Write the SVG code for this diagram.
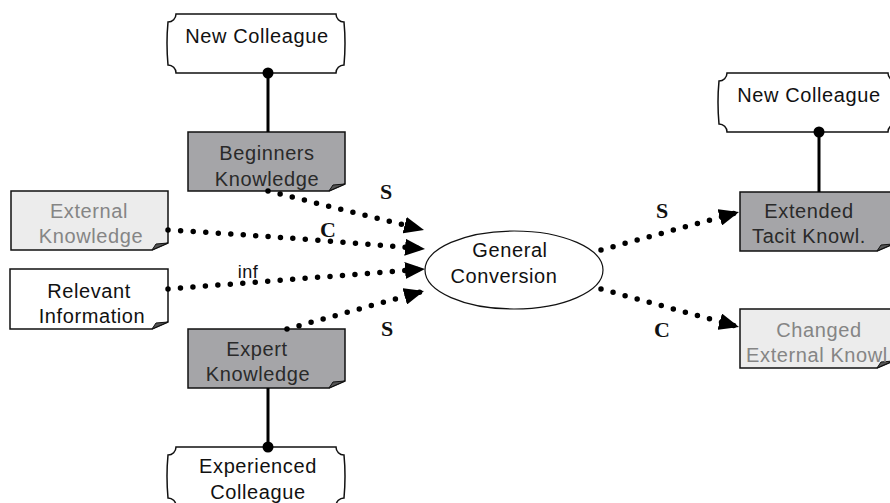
<svg xmlns="http://www.w3.org/2000/svg" width="890" height="503" viewBox="0 0 890 503">
<style>
  .t { font-family: "Liberation Sans", Arial, sans-serif; font-size: 20px; letter-spacing: 0.6px; text-anchor: middle; fill: #111; }
  .tg { fill: #858585; }
  .td { fill: #2a2a2a; }
  .lbl { font-family: "Liberation Serif", "Times New Roman", serif; font-size: 22px; font-weight: bold; text-anchor: middle; fill: #111; }
  .inf { font-family: "Liberation Sans", Arial, sans-serif; font-size: 18px; text-anchor: middle; fill: #111; letter-spacing: 0.5px; }
  .box { stroke: #111; stroke-width: 1.5; }
  .dark { fill: #a5a5a8; }
  .light { fill: #ececec; }
  .white { fill: #ffffff; }
  .fold { fill: #555; stroke: #111; stroke-width: 1; }
  .dot { fill: none; stroke: #000; stroke-width: 5.5; stroke-linecap: round; stroke-dasharray: 0 12.5; }
  .solid { stroke: #000; stroke-width: 3; fill: none; }
</style>
<defs>
  <marker id="arr" markerUnits="userSpaceOnUse" markerWidth="21" markerHeight="17" refX="20" refY="8.5" orient="auto">
    <path d="M0,0 L20,8.5 L0,17 Z" fill="#000"/>
  </marker>
</defs>
<rect width="890" height="503" fill="#fff"/>

<g id="new-colleague-left">
  <path class="box white" d="M176,14 H336 A8,8 0 0 0 344,22 Q346,43 344,65 A8,8 0 0 0 336,73 H176 A8,8 0 0 0 168,65 Q166,43 168,22 A8,8 0 0 0 176,14 Z"/>
  <text class="t" x="257" y="43">New Colleague</text>
</g>

<g id="beginners-knowledge">
  <path class="box dark" d="M188,132 H345 V184 L329,191 H188 Z"/>
  <path class="fold" d="M345,184 L329,191 L333,185 Z"/>
  <text class="t td" x="267" y="160">Beginners</text>
  <text class="t td" x="267" y="186">Knowledge</text>
</g>

<g id="external-knowledge">
  <path class="box light" d="M11,191 H168 V243 L152,250 H11 Z"/>
  <path class="fold" d="M168,243 L152,250 L156,244 Z"/>
  <text class="t tg" x="89" y="218">External</text>
  <text class="t tg" x="91" y="243">Knowledge</text>
</g>

<g id="relevant-information">
  <path class="box white" d="M10,269 H168 V322 L152,329 H10 Z"/>
  <path class="fold" d="M168,322 L152,329 L156,323 Z"/>
  <text class="t" x="89" y="298">Relevant</text>
  <text class="t" x="92" y="323">Information</text>
</g>

<g id="expert-knowledge">
  <path class="box dark" d="M188,329 H345 V381 L329,388 H188 Z"/>
  <path class="fold" d="M345,381 L329,388 L333,382 Z"/>
  <text class="t td" x="257" y="356">Expert</text>
  <text class="t td" x="258" y="381">Knowledge</text>
</g>

<g id="experienced-colleague">
  <path class="box white" d="M176,447 H336 A8,8 0 0 0 344,455 Q346,476 344,498 A8,8 0 0 0 336,506 H176 A8,8 0 0 0 168,498 Q166,476 168,455 A8,8 0 0 0 176,447 Z"/>
  <text class="t" x="258" y="473">Experienced</text>
  <text class="t" x="258" y="499">Colleague</text>
</g>

<g id="general-conversion">
  <ellipse cx="514" cy="270" rx="89" ry="39" fill="#fff" stroke="#111" stroke-width="1.2"/>
  <text class="t" x="510" y="257">General</text>
  <text class="t" x="504" y="283">Conversion</text>
</g>

<g id="new-colleague-right">
  <path class="box white" d="M727,73 H888 A8,8 0 0 0 896,81 Q898,102 896,124 A8,8 0 0 0 888,132 H727 A8,8 0 0 0 719,124 Q717,102 719,81 A8,8 0 0 0 727,73 Z"/>
  <text class="t" x="809" y="102">New Colleague</text>
</g>

<g id="extended-tacit-knowl">
  <path class="box dark" d="M740,192 H893 V244 L877,251 H740 Z"/>
  <path class="fold" d="M893,244 L877,251 L881,245 Z"/>
  <text class="t td" x="809" y="218">Extended</text>
  <text class="t td" x="809" y="243">Tacit Knowl.</text>
</g>

<g id="changed-external-knowl">
  <path class="box light" d="M740,309 H893 V361 L877,368 H740 Z"/>
  <path class="fold" d="M893,361 L877,368 L881,362 Z"/>
  <text class="t tg" x="819" y="337">Changed</text>
  <text class="t tg" x="817" y="362">External Knowl</text>
</g>

<g id="connectors">
  <line class="solid" x1="268" y1="73" x2="268" y2="132"/>
  <circle cx="268" cy="73" r="5.5" fill="#000"/>
  <line class="solid" x1="268" y1="388" x2="268" y2="447"/>
  <circle cx="268" cy="447" r="5.5" fill="#000"/>
  <line class="solid" x1="819" y1="132" x2="819" y2="192"/>
  <circle cx="819" cy="132" r="5.5" fill="#000"/>

  <path class="dot" d="M268,191 L424,230" marker-end="url(#arr)"/>
  <path class="dot" d="M168,230 Q300,238 425,249" marker-end="url(#arr)"/>
  <path class="dot" d="M168,289 L425,269" marker-end="url(#arr)"/>
  <path class="dot" d="M287,329 L424,291" marker-end="url(#arr)"/>
  <path class="dot" d="M601,250 L739,212" marker-end="url(#arr)"/>
  <path class="dot" d="M601,289 L739,327" marker-end="url(#arr)"/>

  <text class="lbl" x="386" y="199">S</text>
  <text class="lbl" x="328" y="237">C</text>
  <text class="inf" x="248" y="278">inf</text>
  <text class="lbl" x="387" y="336">S</text>
  <text class="lbl" x="662" y="218">S</text>
  <text class="lbl" x="662" y="337">C</text>
</g>
</svg>
